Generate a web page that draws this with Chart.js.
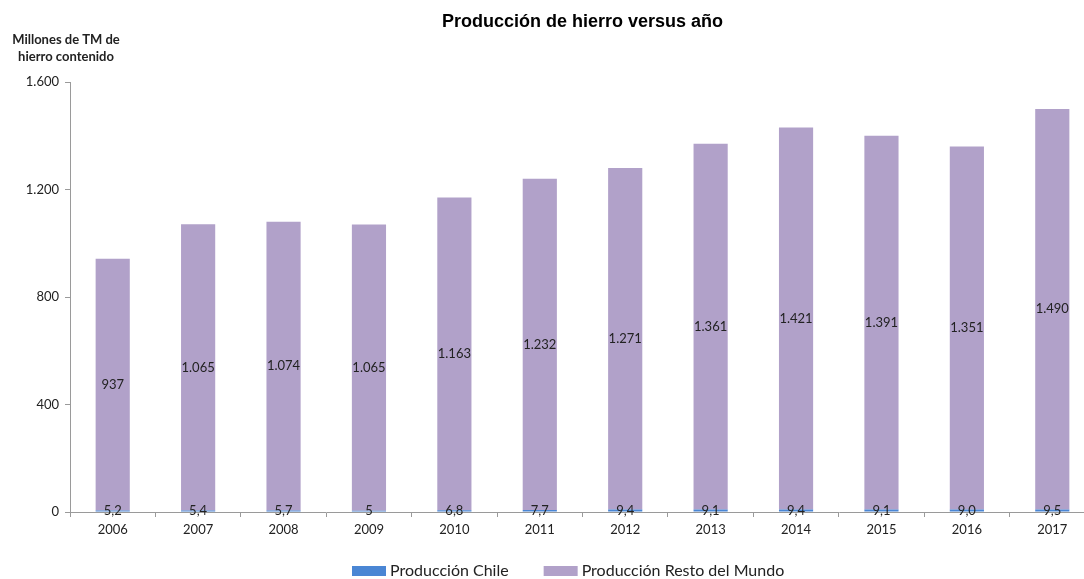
<!DOCTYPE html>
<html>
<head>
<meta charset="utf-8">
<script src="https://cdn.jsdelivr.net/npm/chart.js@4/dist/chart.umd.min.js"></script>
<style>
  html, body { margin: 0; padding: 0; background: #fff; overflow: hidden; }
  #wrap { position: relative; width: 1100px; height: 579px; }
</style>
</head>
<body>
<div id="wrap"><canvas id="chart" width="1100" height="579"></canvas></div>
<script>
// data
const years = ['2006', '2007', '2008', '2009', '2010', '2011', '2012', '2013', '2014', '2015', '2016', '2017'];
const chile = [5.2, 5.4, 5.7, 5, 6.8, 7.7, 9.4, 9.1, 9.4, 9.1, 9.0, 9.5];
const chileLabels = ['5,2', '5,4', '5,7', '5', '6,8', '7,7', '9,4', '9,1', '9,4', '9,1', '9,0', '9,5'];
const resto = [937, 1065, 1074, 1065, 1163, 1232, 1271, 1361, 1421, 1391, 1351, 1490];
const yTicks = [0, 400, 800, 1200, 1600];

const FONT = 'Lato, "Open Sans", sans-serif';

// thousands with a dot, like the original
function fmt(v) {
    return String(v).replace(/\B(?=(\d{3})+(?!\d))/g, '.');
}

// draws the value labels, title, axis caption and the legend
const labelsPlugin = {
    id: 'labelsPlugin',
    afterDatasetsDraw(chart) {
        const ctx = chart.ctx;
        ctx.save();
        ctx.font = '13px ' + FONT;
        ctx.fillStyle = '#222';
        ctx.textAlign = 'center';
        ctx.textBaseline = 'middle';

        // Chile labels sit on the axis line
        const metaChile = chart.getDatasetMeta(0);
        metaChile.data.forEach((bar, i) => {
            ctx.fillText(chileLabels[i], bar.x, chart.scales.y.getPixelForValue(0) - 1);
        });

        // rest-of-world labels in the middle of the bar
        const metaResto = chart.getDatasetMeta(1);
        metaResto.data.forEach((bar, i) => {
            ctx.fillText(fmt(resto[i]), bar.x, (bar.y + bar.base) / 2);
        });
        ctx.restore();
    },
    afterDraw(chart) {
        const ctx = chart.ctx;
        const area = chart.chartArea;
        ctx.save();
        ctx.fillStyle = '#000';
        ctx.textAlign = 'center';
        ctx.textBaseline = 'middle';
        ctx.font = 'bold 18px "Liberation Sans", Arial, sans-serif';
        ctx.fillText('Producción de hierro versus año', (area.left + area.right) / 2, 22);

        ctx.fillStyle = '#222';
        ctx.font = 'bold 13px ' + FONT;
        ctx.fillText('Millones de TM de', 66, 40);
        ctx.fillText('hierro contenido', 66, 57);

        // legend
        ctx.textAlign = 'left';
        ctx.font = '16px ' + FONT;
        let x = 352;
        const y = 571;
        chart.data.datasets.forEach(ds => {
            ctx.fillStyle = ds.backgroundColor;
            ctx.fillRect(x, y - 5, 34, 10);
            ctx.fillStyle = '#222';
            ctx.fillText(ds.label, x + 38, y);
            x += 38 + ctx.measureText(ds.label).width + 35;
        });
        ctx.restore();
    }
};

const ctx = document.getElementById('chart').getContext('2d');
const chart = new Chart(ctx, {
    type: 'bar',
    data: {
        labels: years,
        datasets: [
            {
                label: 'Producción Chile',
                data: chile,
                backgroundColor: '#4A86D4',
                barPercentage: 0.4,
                categoryPercentage: 1.0
            },
            {
                label: 'Producción Resto del Mundo',
                data: resto,
                backgroundColor: '#B1A1C9',
                barPercentage: 0.4,
                categoryPercentage: 1.0
            }
        ]
    },
    options: {
        responsive: false,
        animation: false,
        devicePixelRatio: 1,
        layout: {
            padding: { top: 82, left: 0, right: 5, bottom: 32 }
        },
        plugins: {
            tooltip: { enabled: false },
            legend: { display: false }
        },
        scales: {
            x: {
                stacked: true,
                grid: {
                    drawOnChartArea: false,
                    drawTicks: true,
                    tickLength: 5,
                    color: '#9a9a9a',
                    offset: true
                },
                border: { display: true, color: '#9a9a9a' },
                ticks: {
                    color: '#222',
                    padding: 5,
                    font: { family: FONT, size: 13 }
                },
                afterFit(scale) { scale.height = 35; }
            },
            y: {
                stacked: true,
                min: 0,
                max: 1600,
                afterBuildTicks(scale) {
                    scale.ticks = yTicks.map(v => ({ value: v }));
                },
                grid: {
                    drawOnChartArea: false,
                    drawTicks: true,
                    tickLength: 5,
                    color: '#9a9a9a'
                },
                border: { display: true, color: '#9a9a9a' },
                ticks: {
                    color: '#222',
                    padding: 6,
                    font: { family: FONT, size: 13 },
                    callback: v => fmt(v)
                },
                afterFit(scale) { scale.width = 70; }
            }
        }
    },
    plugins: [labelsPlugin]
});
</script>
</body>
</html>
